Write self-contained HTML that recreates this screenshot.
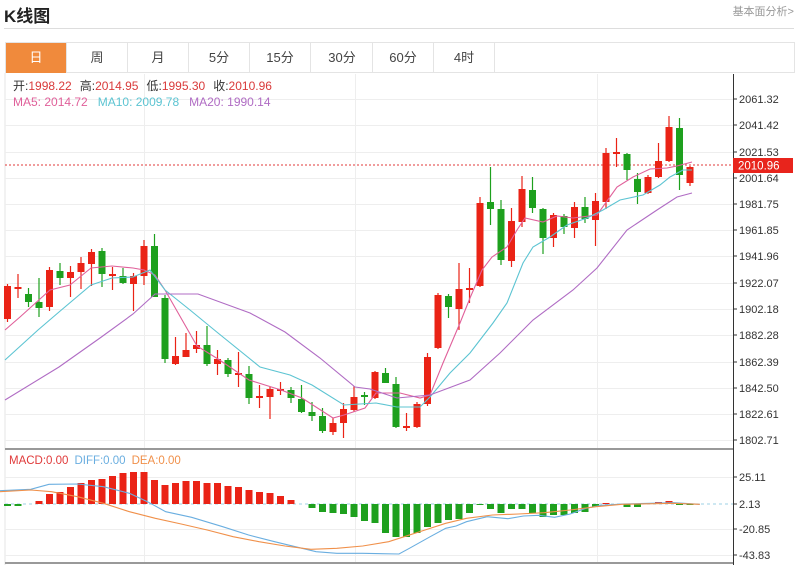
<!DOCTYPE html>
<html><head><meta charset="utf-8"><style>
body{margin:0;width:800px;height:565px;background:#fff;font-family:"Liberation Sans","Noto Sans CJK SC",sans-serif;overflow:hidden;position:relative}
.t{position:absolute;left:4px;top:2px;font-size:17px;font-weight:bold;color:#222}
.r{position:absolute;right:6px;top:3px;font-size:11px;color:#999}
.hl{position:absolute;left:4px;top:28px;width:790px;height:1px;background:#ddd}
.tabs{position:absolute;left:5px;top:42px;width:790px;height:31px;border:1px solid #e4e4e4;box-sizing:border-box}
.tab{position:absolute;top:0;height:30px;width:61px;border-right:1px solid #e4e4e4;font-size:13px;color:#444;text-align:center;line-height:30px;box-sizing:border-box}
svg{position:absolute;left:0;top:0}
</style></head><body>
<div class="t">K线图</div><div class="r">基本面分析&gt;</div><div class="hl"></div>
<div class="tabs">
<div class="tab" style="left:0;background:#f08a3c;color:#fff">日</div>
<div class="tab" style="left:61px">周</div>
<div class="tab" style="left:122px">月</div>
<div class="tab" style="left:183px">5分</div>
<div class="tab" style="left:244px">15分</div>
<div class="tab" style="left:306px">30分</div>
<div class="tab" style="left:367px">60分</div>
<div class="tab" style="left:428px">4时</div>
</div>
<svg id="s" width="800" height="565" xmlns="http://www.w3.org/2000/svg" font-family="Liberation Sans, Noto Sans CJK SC, sans-serif">
<line x1="5" y1="73" x2="5" y2="565" stroke="#e4e4e4"/>
<g id="grid" stroke="#eeeeee" stroke-width="1"></g>
<line x1="733.5" y1="74" x2="733.5" y2="565" stroke="#333"/>
<line x1="5" y1="449" x2="733" y2="449" stroke="#999" stroke-width="2"/>
<line x1="5" y1="563" x2="733" y2="563" stroke="#999" stroke-width="2"/>
<line x1="5" y1="165" x2="733" y2="165" stroke="#e03a3a" stroke-dasharray="2,2"/>
<line x1="5" y1="504" x2="733" y2="504" stroke="#9cd0e6" stroke-dasharray="3,3"/>
<g id="ylab" font-size="11" fill="#333"></g>
<rect x="733" y="158" width="60" height="15" fill="#e8241c"/>
<text x="738" y="169.5" font-size="11.5" fill="#fff">2010.96</text>
<g id="c"></g><g id="m"></g>
<text x="13" y="90" font-size="12"><tspan fill="#333">开:</tspan><tspan fill="#d93a3a">1998.22</tspan><tspan fill="#333" dx="8">高:</tspan><tspan fill="#d93a3a">2014.95</tspan><tspan fill="#333" dx="8">低:</tspan><tspan fill="#d93a3a">1995.30</tspan><tspan fill="#333" dx="8">收:</tspan><tspan fill="#d93a3a">2010.96</tspan></text>
<text x="13" y="106" font-size="12"><tspan fill="#e0609a">MA5: 2014.72</tspan><tspan fill="#5cc4d2" dx="10">MA10: 2009.78</tspan><tspan fill="#b06cc4" dx="10">MA20: 1990.14</tspan></text>
<text x="9" y="464" font-size="11.5"><tspan fill="#e03a3a">MACD:0.00</tspan><tspan fill="#6aaee0" dx="6">DIFF:0.00</tspan><tspan fill="#f0904a" dx="6">DEA:0.00</tspan></text>
</svg>
<script>
var NS="http://www.w3.org/2000/svg";
function el(p,t,a){var e=document.createElementNS(NS,t);for(var k in a)e.setAttribute(k,a[k]);document.getElementById(p).appendChild(e);return e;}
var ly=[[99,"2061.32"],[125,"2041.42"],[152,"2021.53"],[178,"2001.64"],[204,"1981.75"],[230,"1961.85"],[256,"1941.96"],[283,"1922.07"],[309,"1902.18"],[335,"1882.28"],[362,"1862.39"],[388,"1842.50"],[414,"1822.61"],[440,"1802.71"],[477,"25.11"],[504,"2.13"],[529,"-20.85"],[555,"-43.83"]];
ly.forEach(function(a){if(a[0]!=504)el("grid","line",{x1:5,x2:733,y1:a[0]+.5,y2:a[0]+.5});el("ylab","line",{x1:733,x2:737,y1:a[0],y2:a[0],stroke:"#333"});var t=el("ylab","text",{x:739,y:a[0]+4});t.textContent=a[1];});
[144,355,597].forEach(function(x){el("grid","line",{x1:x+.5,x2:x+.5,y1:74,y2:563});});
// o,c,h,l  (pixel y), colour by o>c => up(red)
var C=[[319,286,284,322],[288,288,274,298,1],[294,302,288,307],[302,308,278,317],[307,270,267,311],[271,278,263,285],[278,272,266,297],[272,263,257,289],[264,252,249,286],[251,274,248,287],
[275,275,267,290,1],[276,283,268,284],[284,276,273,311],[276,246,240,285],[246,297,234,297],[298,359,295,363],[364,356,337,365],[357,350,333,357],[349,345,331,353],[345,364,326,366],
[364,359,350,375],[360,374,358,377],[374,374,352,387,1],[374,398,366,404],[397,397,385,408,1],[397,389,387,419],[390,390,382,395,1],[390,398,387,403],[399,412,385,413],[412,416,402,421],
[416,431,408,433],[432,423,418,435],[423,409,403,438],[410,397,386,412],[396,396,392,405,0],[398,372,371,399],[373,383,368,383],[384,427,377,428],[427,427,413,431,1],[427,404,402,428],
[404,357,353,406],[348,295,293,349],[296,307,294,318],[309,289,263,330],[290,288,268,303],[286,203,197,287],[202,209,167,225],[209,260,200,265],[261,221,208,267],[222,189,176,227],
[190,208,177,213],[209,238,208,254],[238,215,213,247],[216,227,214,234],[228,207,202,238],[207,219,197,223],[220,201,193,246],[202,153,148,209],[153,153,138,167,1],[154,170,153,180],
[179,192,173,204],[193,177,175,194],[177,161,143,178],[161,127,116,162],[128,175,118,190],[183,167,166,186]];
var R="#ea2316",G="#1ea01e";
C.forEach(function(d,i){var x=7.5+10.5*i;var up;if(d.length>4)up=d[4]==1;else up=d[0]>=d[1];var col=up?R:G;
el("c","line",{x1:x,x2:x,y1:d[2],y2:d[3],stroke:col,"stroke-width":1.2});
var t=Math.min(d[0],d[1]),b=Math.max(d[0],d[1]);if(b-t<1.5){t-=1;b+=1;}
el("c","rect",{x:x-3.5,y:t,width:7,height:b-t,fill:col});});
function pl(pts,col){el("m","polyline",{points:pts.map(function(p){return p.join(",")}).join(" "),fill:"none",stroke:col,"stroke-width":1.1});}
pl([[5,330],[20,317],[50,290],[70,285],[91,268],[112,266],[133,268],[144,270],[155,275],[165,290],[197,346],[218,359],[249,380],[281,390],[302,398],[333,418],[344,415],[365,408],[376,393],[400,393],[420,398],[430,395],[443,363],[460,323],[470,298],[482,270],[492,257],[507,247],[517,230],[525,218],[543,222],[557,216],[573,218],[597,215],[617,187],[633,177],[650,169],[667,168],[677,166],[692,162]],"#e0609a");
pl([[5,360],[38,330],[59,312],[91,285],[112,278],[133,277],[150,270],[165,290],[190,310],[218,333],[260,367],[290,375],[312,385],[344,405],[376,403],[397,407],[420,407],[430,397],[450,373],[470,353],[493,323],[507,303],[523,263],[533,247],[550,237],[567,225],[587,218],[603,210],[620,200],[643,195],[660,185],[670,177],[683,170],[692,170]],"#5cc4d2");
pl([[5,400],[59,367],[100,338],[133,314],[155,294],[198,294],[250,313],[285,332],[320,358],[355,387],[370,389],[397,398],[430,395],[470,380],[500,353],[533,320],[573,290],[597,268],[627,230],[657,210],[677,197],[692,193]],"#b06cc4");
// MACD bars
var H={0:506,1:506,2:504};var red=[501,494,492,487,483,480,479,476,473,472,472,480,485,483,481,481,483,483,486,487,490,492,493,496,500];
red.forEach(function(v,k){H[3+k]=v;});H[28]=504;
var gr=[508,512,513,514,517,521,523,533,537,537,533,527,523,520,519,513,505,509,513,509,509,513,517,515,515,513,512,507,503,504,507,507,504,502,501,505];
gr.forEach(function(v,k){H[29+k]=v;});H[65]=505;
for(var i=0;i<66;i++){var v=H[i];if(v==undefined||Math.abs(v-504)<0.5)continue;var x=7.5+10.5*i;var col=v<504?R:G;el("m","rect",{x:x-3.5,y:Math.min(v,504),width:7,height:Math.abs(v-504),fill:col});}
function mx(X){return 7.5+(X-15)*0.5186;}
function ml(a,col){pl(a.map(function(p){return [mx(p[0]).toFixed(1),(440+p[1]/3).toFixed(1)];}),col);}
ml([[0,152],[60,148],[95,133],[150,132],[200,140],[250,160],[285,185],[320,215],[370,232],[430,260],[480,285],[530,305],[570,320],[610,335],[650,340],[700,340],[770,342],[790,325],[830,290],[860,265],[880,258],[900,245],[940,230],[980,236],[1010,228],[1040,226],[1070,232],[1100,222],[1130,205],[1160,196],[1200,192],[1300,188],[1350,193]],"#6aaee0");
ml([[0,155],[60,150],[100,155],[150,170],[200,190],[250,215],[300,235],[350,252],[400,270],[450,290],[500,305],[550,318],[600,328],[650,325],[700,318],[750,305],[780,290],[820,270],[860,250],[900,235],[950,225],[1000,222],[1050,218],[1100,210],[1150,200],[1200,193],[1300,190],[1350,193]],"#f0904a");
</script>
</body></html>
